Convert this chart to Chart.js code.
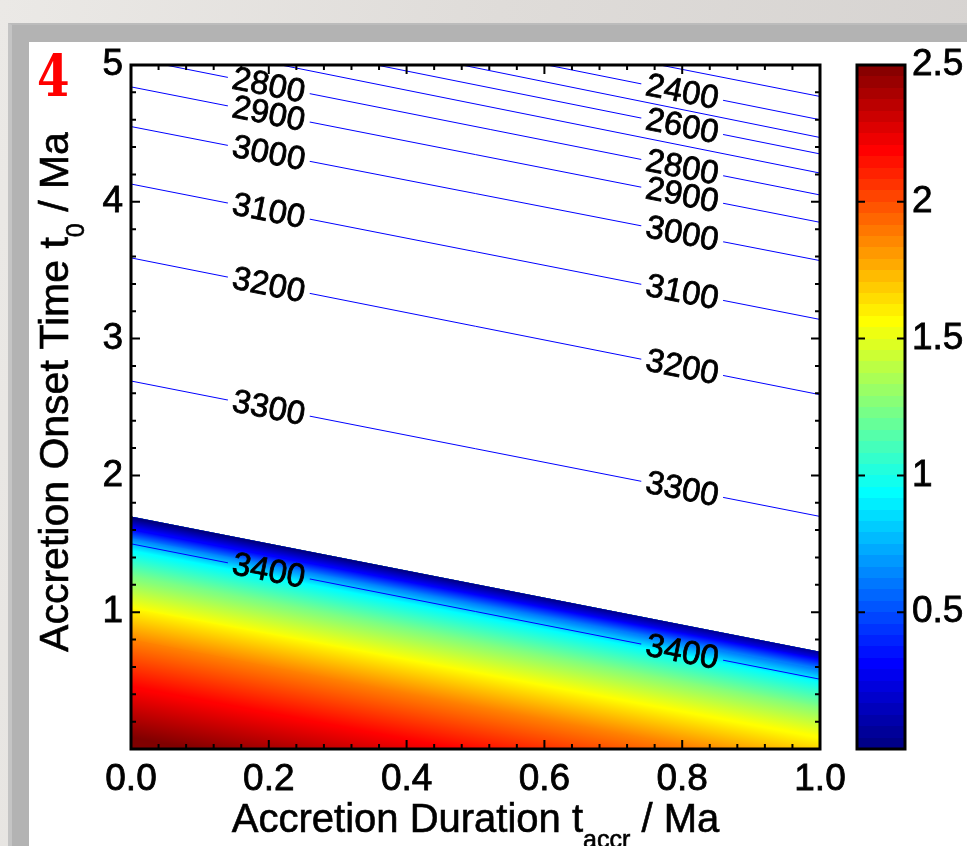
<!DOCTYPE html>
<html>
<head>
<meta charset="utf-8">
<script src="https://cdn.jsdelivr.net/npm/chart.js@4.4.1/dist/chart.umd.min.js"></script>
<style>
  html, body { margin: 0; padding: 0; }
  body {
    width: 967px; height: 846px; overflow: hidden; position: relative;
    background: linear-gradient(100deg, #ebe9e6 0%, #dfdcd9 45%, #d4d1cf 100%);
    font-family: 'Liberation Sans', Arial, sans-serif;
  }
  #frame { position: absolute; left: 8px; top: 23px; right: 0; bottom: 0; background: #b3b3b3; border-left: 4px solid #c4c4c4; border-top: 2px solid #bcbcbc; }
  #panel { position: absolute; left: 29px; top: 42px; right: 0; bottom: 0; background: #fff; }
  canvas { position: absolute; top: 0; }
  #main { left: 0; }
  #cbar { left: 840px; }
  #num {
    position: absolute; left: 37px; top: 45px;
    font-family: 'DejaVu Serif', 'Liberation Serif', 'Times New Roman', Times, serif;
    font-weight: bold; font-size: 57px; line-height: 62px; color: #f00;
    transform: scaleX(0.82); transform-origin: left center;
  }
  .title { position: absolute; font-size: 40px; line-height: 40px; height: 40px; white-space: nowrap; text-align: center; color: #000; -webkit-text-stroke: 0.6px #000; }
  #xtitle { left: 131px; width: 689px; top: 798px; }
  #ytitle { left: -296px; width: 700px; top: 372px; font-size: 41px; transform: rotate(-90deg); }
  .sub { font-size: 25px; position: relative; top: 16px; }
</style>
</head>
<body>
<div id="frame"></div>
<div id="panel"></div>
<canvas id="main" width="967" height="846"></canvas>
<canvas id="cbar" width="127" height="846"></canvas>
<div id="num">4</div>
<div id="xtitle" class="title">Accretion Duration t<span class="sub">accr</span> / Ma</div>
<div id="ytitle" class="title">Accretion Onset Time t<span class="sub">0</span> / Ma</div>
<script>
// x range of every line (accretion duration, Ma)
const xDomain = [0, 1];

// filled region: colour value and the y of that colour band at x=0 and x=1
// (last entry closes the region below the plot floor)
const fillValues = [0, 0.3125, 0.625, 0.9375, 1.25, 1.5625, 1.875, 2.1875, 2.5, 2.5];
const fillYStart = [1.70, 1.60, 1.54, 1.45, 1.25, 1.03, 0.80, 0.45, 0.08, -1.0];
const fillYEnd   = [0.71, 0.66, 0.58, 0.49, 0.31, 0.09, -0.18, -0.50, -0.85, -2.0];

// contour lines
const contourLevels = [2300, 2400, 2500, 2600, 2700, 2800, 2900, 3000, 3100, 3200, 3300, 3400];
const contourYStart = [5.76, 5.61, 5.49, 5.36, 5.22, 5.05, 4.84, 4.55, 4.13, 3.59, 2.69, 1.50];
const contourYEnd   = [4.77, 4.60, 4.47, 4.35, 4.21, 4.05, 3.85, 3.57, 3.14, 2.59, 1.70, 0.51];
const leftLabelLevels  = [2800, 2900, 3000, 3100, 3200, 3300, 3400];
const rightLabelLevels = [2400, 2600, 2800, 2900, 3000, 3100, 3200, 3300, 3400];
const labelXLeft = 0.2, labelXRight = 0.8;

const xTicks = [0, 0.2, 0.4, 0.6, 0.8, 1.0];
const xTickLabels = ['0.0', '0.2', '0.4', '0.6', '0.8', '1.0'];
const yTicks = [1, 2, 3, 4, 5];
const yTickLabels = ['1', '2', '3', '4', '5'];
const cbTicks = [0.5, 1, 1.5, 2, 2.5];
const cbTickLabels = ['0.5', '1', '1.5', '2', '2.5'];
const cbRange = [0, 2.5];

Chart.defaults.font.family = "'Liberation Sans', Arial, sans-serif";
Chart.defaults.color = '#000';

function jet(v) {
  const f = v / cbRange[1];
  const c = t => Math.round(255 * Math.max(0, Math.min(1, 1.5 - Math.abs(4 * f - t))));
  return 'rgb(' + c(3) + ',' + c(2) + ',' + c(1) + ')';
}

// gradient across a band, perpendicular to its edges
function bandFill(i) {
  return function (ctx) {
    const chart = ctx.chart;
    const xs = chart.scales.x, ys = chart.scales.y;
    if (!chart.chartArea || !xs || !ys) return jet(fillValues[i]);
    const x0 = xs.getPixelForValue(xDomain[0]), x1 = xs.getPixelForValue(xDomain[1]);
    const ya0 = ys.getPixelForValue(fillYStart[i - 1]), ya1 = ys.getPixelForValue(fillYEnd[i - 1]);
    const yb0 = ys.getPixelForValue(fillYStart[i]), yb1 = ys.getPixelForValue(fillYEnd[i]);
    const s = ((ya1 - ya0) + (yb1 - yb0)) / 2 / (x1 - x0);
    const norm = Math.sqrt(1 + s * s);
    const mx = (x0 + x1) / 2, my = (ya0 + ya1) / 2;
    const dist = ((yb0 + yb1) / 2 - my) / norm;
    const g = chart.ctx.createLinearGradient(mx, my, mx - s / norm * dist, my + dist / norm);
    g.addColorStop(0, jet(fillValues[i - 1]));
    g.addColorStop(1, jet(fillValues[i]));
    return g;
  };
}

const datasets = [];
fillValues.forEach((v, i) => {
  datasets.push({
    data: [{x: xDomain[0], y: fillYStart[i]}, {x: xDomain[1], y: fillYEnd[i]}],
    borderColor: 'rgba(0,0,0,0)',
    borderWidth: 0,
    pointRadius: 0,
    fill: i === 0 ? false : 0,
    backgroundColor: i === 0 ? 'rgba(0,0,0,0)' : bandFill(i),
    order: 2
  });
});
contourLevels.forEach((lvl, k) => {
  datasets.push({
    contour: lvl,
    data: [{x: xDomain[0], y: contourYStart[k]}, {x: xDomain[1], y: contourYEnd[k]}],
    borderColor: '#0000ff',
    borderWidth: 1,
    pointRadius: 0,
    fill: false,
    order: 1
  });
});

const labelFont = "33px 'Liberation Sans', Arial, sans-serif";

function labelBoxes(chart) {
  const xs = chart.scales.x, ys = chart.scales.y;
  const ctx = chart.ctx;
  ctx.save();
  ctx.font = labelFont;
  const out = [];
  const add = (lvl, xv) => {
    const k = contourLevels.indexOf(lvl);
    const p0x = xs.getPixelForValue(xDomain[0]), p1x = xs.getPixelForValue(xDomain[1]);
    const p0y = ys.getPixelForValue(contourYStart[k]), p1y = ys.getPixelForValue(contourYEnd[k]);
    const t = (xs.getPixelForValue(xv) - p0x) / (p1x - p0x);
    out.push({
      text: String(lvl),
      x: p0x + (p1x - p0x) * t,
      y: p0y + (p1y - p0y) * t,
      angle: Math.atan2(p1y - p0y, p1x - p0x),
      w: ctx.measureText(String(lvl)).width
    });
  };
  leftLabelLevels.forEach(l => add(l, labelXLeft));
  rightLabelLevels.forEach(l => add(l, labelXRight));
  ctx.restore();
  return out;
}

const contourLabels = {
  id: 'contourLabels',
  beforeDatasetDraw(chart, args) {
    if (!chart.data.datasets[args.index].contour) return;
    const ctx = chart.ctx;
    ctx.save();
    ctx.beginPath();
    ctx.rect(0, 0, chart.width, chart.height);
    labelBoxes(chart).forEach(b => {
      ctx.save();
      ctx.translate(b.x, b.y);
      ctx.rotate(b.angle);
      ctx.rect(-b.w / 2 - 5, -4, b.w + 10, 8);
      ctx.restore();
    });
    ctx.clip('evenodd');
  },
  afterDatasetDraw(chart, args) {
    if (chart.data.datasets[args.index].contour) chart.ctx.restore();
  },
  afterDatasetsDraw(chart) {
    const ctx = chart.ctx;
    labelBoxes(chart).forEach(b => {
      ctx.save();
      ctx.translate(b.x, b.y);
      ctx.rotate(b.angle);
      ctx.font = labelFont;
      ctx.fillStyle = '#000';
      ctx.strokeStyle = '#000';
      ctx.lineWidth = 0.8;
      ctx.textAlign = 'center';
      ctx.textBaseline = 'middle';
      ctx.fillText(b.text, 0, 1);
      ctx.strokeText(b.text, 0, 1);
      ctx.restore();
    });
  }
};

const plotFrame = {
  id: 'plotFrame',
  afterDraw(chart) {
    const ctx = chart.ctx, a = chart.chartArea;
    const xs = chart.scales.x, ys = chart.scales.y;
    ctx.save();
    ctx.strokeStyle = '#000';
    ctx.lineWidth = 2;
    ctx.beginPath();
    for (let v = 0; v <= 1.0001; v += 0.04) {
      const px = xs.getPixelForValue(v);
      const major = xTicks.some(t => Math.abs(t - v) < 1e-6);
      const len = major ? 9 : 5;
      ctx.moveTo(px, a.bottom); ctx.lineTo(px, a.bottom - len);
      ctx.moveTo(px, a.top); ctx.lineTo(px, a.top + len);
    }
    for (let v = 0; v <= 5.0001; v += 0.2) {
      const py = ys.getPixelForValue(v);
      const major = yTicks.some(t => Math.abs(t - v) < 1e-6);
      const len = major ? 9 : 5;
      ctx.moveTo(a.left, py); ctx.lineTo(a.left + len, py);
      ctx.moveTo(a.right, py); ctx.lineTo(a.right - len, py);
    }
    ctx.stroke();
    ctx.lineWidth = 3;
    ctx.strokeRect(a.left, a.top, a.right - a.left, a.bottom - a.top);
    ctx.restore();
  }
};

const tickStyle = { font: { size: 37 }, color: '#000', textStrokeColor: '#000', textStrokeWidth: 0.8 };

new Chart(document.getElementById('main'), {
  type: 'line',
  data: { datasets: datasets },
  options: {
    responsive: false,
    animation: false,
    events: [],
    layout: { padding: { left: 0, top: 65, right: 147, bottom: 0 } },
    plugins: { legend: { display: false }, tooltip: { enabled: false } },
    scales: {
      x: {
        type: 'linear', min: 0, max: 1,
        afterBuildTicks: s => { s.ticks = xTicks.map(v => ({ value: v })); },
        afterFit: s => { s.height = 97; },
        grid: { display: false, drawTicks: false },
        border: { display: false },
        ticks: Object.assign({ padding: 9, maxRotation: 0, autoSkip: false,
          callback: (v, i) => xTickLabels[i] }, tickStyle)
      },
      y: {
        type: 'linear', min: 0, max: 5,
        afterBuildTicks: s => { s.ticks = yTicks.map(v => ({ value: v })); },
        afterFit: s => { s.width = 131; },
        grid: { display: false, drawTicks: false },
        border: { display: false },
        ticks: Object.assign({ padding: 8, autoSkip: false,
          callback: (v, i) => yTickLabels[i] }, tickStyle)
      }
    }
  },
  plugins: [contourLabels, plotFrame]
});

// colour bar
const cbSteps = 60;
function cbFill(ctx) {
  const chart = ctx.chart, a = chart.chartArea;
  if (!a) return jet(1.25);
  const g = chart.ctx.createLinearGradient(0, a.bottom, 0, a.top);
  for (let i = 0; i < cbSteps; i++) {
    const c = jet(cbRange[1] * (i + 0.5) / cbSteps);
    g.addColorStop(i / cbSteps, c);
    g.addColorStop((i + 1) / cbSteps, c);
  }
  return g;
}

const cbFrame = {
  id: 'cbFrame',
  afterDraw(chart) {
    const ctx = chart.ctx, a = chart.chartArea, ys = chart.scales.y;
    ctx.save();
    ctx.strokeStyle = '#000';
    ctx.lineWidth = 2;
    ctx.beginPath();
    cbTicks.forEach(v => {
      const py = ys.getPixelForValue(v);
      ctx.moveTo(a.left, py); ctx.lineTo(a.left + 8, py);
      ctx.moveTo(a.right, py); ctx.lineTo(a.right - 8, py);
    });
    ctx.stroke();
    ctx.lineWidth = 3;
    ctx.strokeRect(a.left, a.top, a.right - a.left, a.bottom - a.top);
    ctx.restore();
  }
};

new Chart(document.getElementById('cbar'), {
  type: 'bar',
  data: {
    labels: [''],
    datasets: [{ data: [[cbRange[0], cbRange[1]]], backgroundColor: cbFill, borderWidth: 0,
      barPercentage: 1, categoryPercentage: 1 }]
  },
  options: {
    responsive: false,
    animation: false,
    events: [],
    layout: { padding: { left: 17, top: 65, right: 0, bottom: 97 } },
    plugins: { legend: { display: false }, tooltip: { enabled: false } },
    scales: {
      x: { display: false },
      y: {
        position: 'right', min: cbRange[0], max: cbRange[1],
        afterBuildTicks: s => { s.ticks = cbTicks.map(v => ({ value: v })); },
        afterFit: s => { s.width = 62; },
        grid: { display: false, drawTicks: false },
        border: { display: false },
        ticks: Object.assign({ padding: 7, autoSkip: false,
          callback: (v, i) => cbTickLabels[i] }, tickStyle)
      }
    }
  },
  plugins: [cbFrame]
});
</script>
</body>
</html>
